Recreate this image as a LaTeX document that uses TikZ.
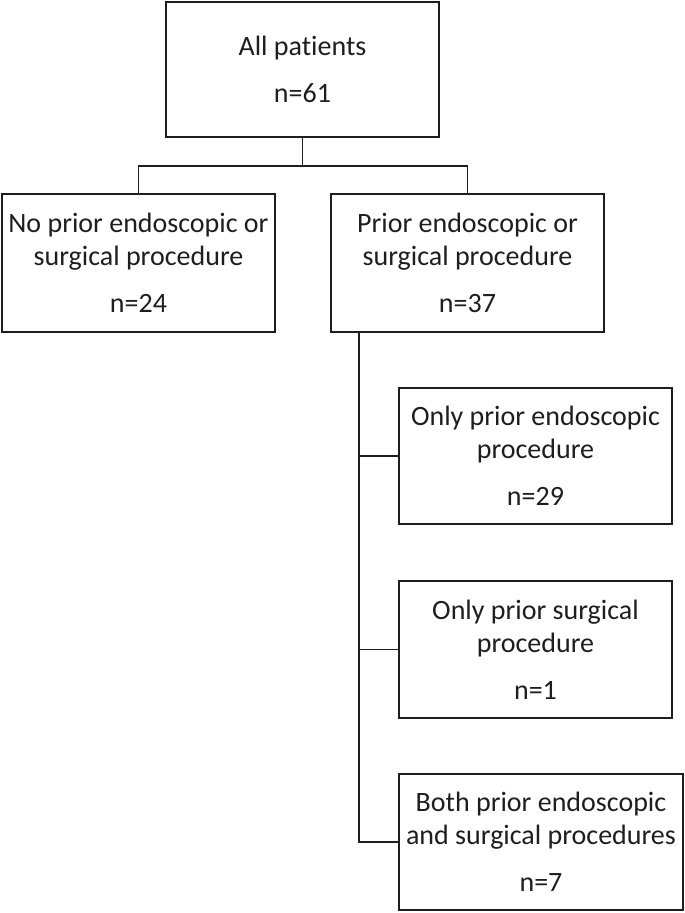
\documentclass[tikz,border=0pt]{standalone}
\usepackage{fontspec}
\setmainfont[Ligatures=NoCommon]{Carlito}
\definecolor{ink}{HTML}{1E1E1E}
\begin{document}
\begin{tikzpicture}[x=1pt,y=1pt,
  box/.style={draw=ink, line width=1.8pt, text=ink, align=center, inner sep=0pt,
    minimum width=273pt, font=\fontsize{28}{33}\selectfont},
  link/.style={draw=ink, line width=1.8pt}]
\useasboundingbox (0,0) rectangle (685,-913);
\node[box, minimum height=135pt] (top) at (302.5,-69.5) {All patients\\[14pt]n=61};
\node[box, minimum height=138pt] (left) at (138.5,-263) {No prior endoscopic or\\surgical procedure\\[14pt]n=24};
\node[box, minimum height=138pt] (right) at (467.5,-263) {Prior endoscopic or\\surgical procedure\\[14pt]n=37};
\node[box, minimum height=136pt] (b3) at (535.5,-456) {Only prior endoscopic\\procedure\\[14pt]n=29};
\node[box, minimum height=137pt] (b4) at (535.5,-649.5) {Only prior surgical\\procedure\\[14pt]n=1};
\node[box, minimum height=136pt, minimum width=284pt] (b5) at (541,-842) {Both prior endoscopic\\and surgical procedures\\[14pt]n=7};
\coordinate (fork) at (302.5,-166);
\coordinate (spine) at (359,-332);
\draw[link] (top.south) -- (fork);
\draw[link] (left.north) |- (fork) -| (right.north);
\draw[link] (spine) |- (b5.west);
\draw[link] (spine |- b3.west) -- (b3.west);
\draw[link] (spine |- b4.west) -- (b4.west);
\end{tikzpicture}
\end{document}
